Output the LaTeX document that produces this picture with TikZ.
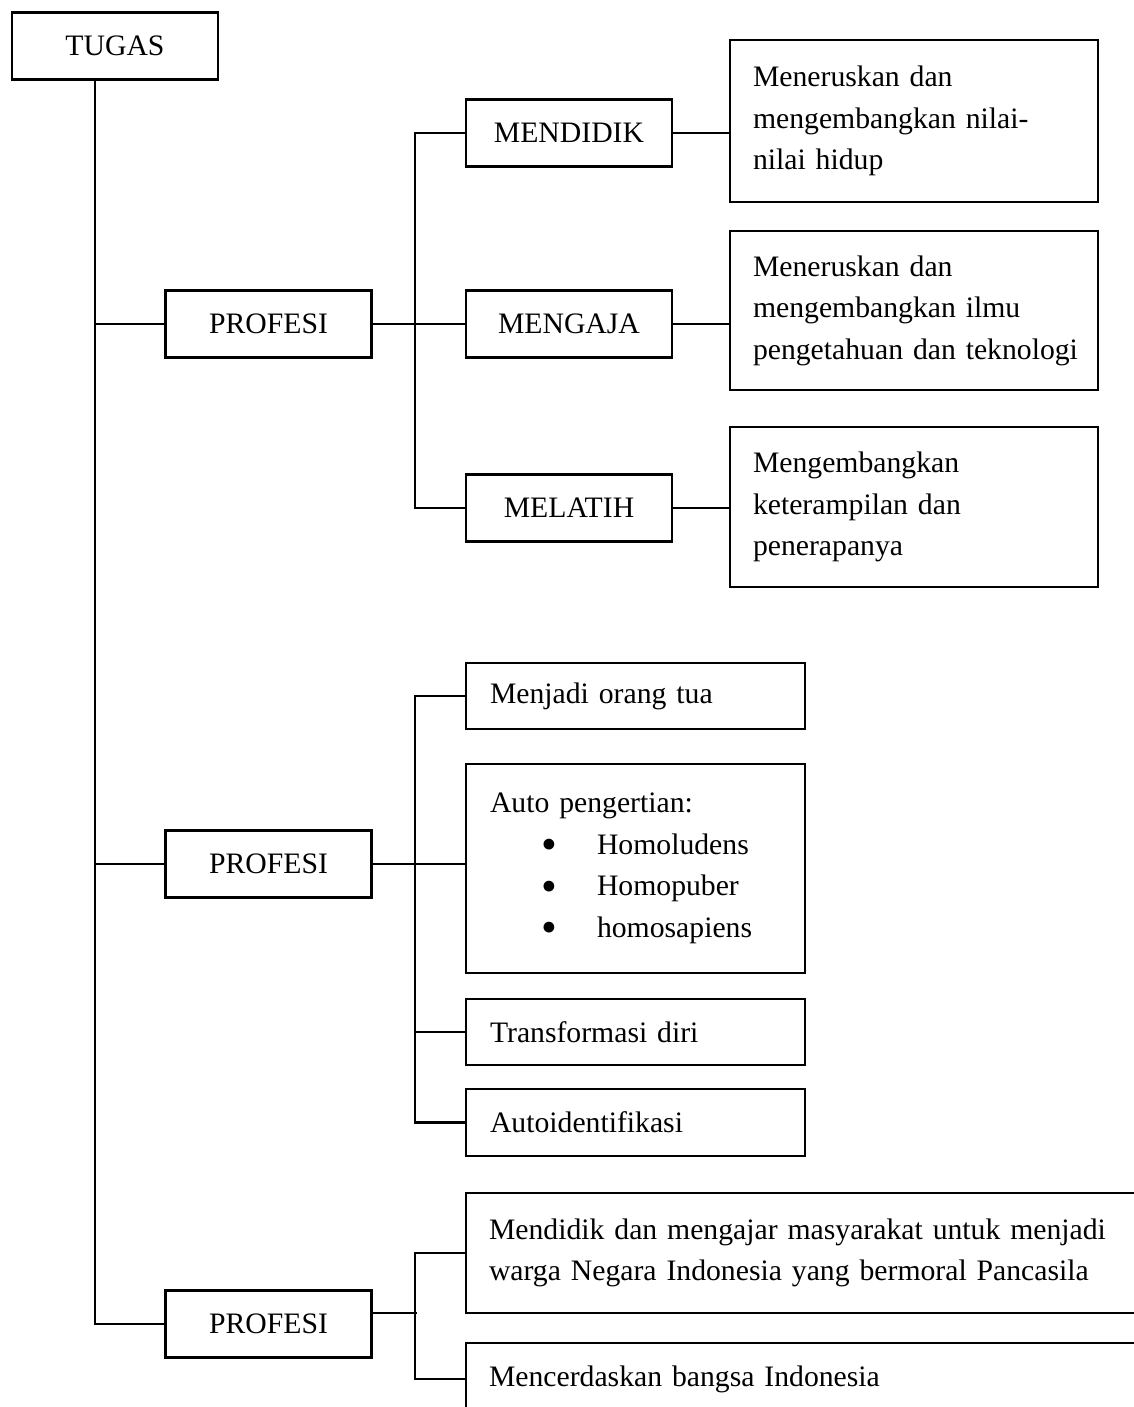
\documentclass[tikz,border=0pt]{standalone}
\usepackage{fontspec}
\setmainfont{Liberation Serif}
\usepackage{tikz}
\newcommand{\huruf}{\fontsize{29.7pt}{41.5pt}\selectfont}
\newcommand{\butir}[1]{\makebox[107pt][l]{\hspace*{51pt}\raisebox{-5.5pt}{\fontsize{45pt}{41.5pt}\selectfont\textbullet}}#1}

\begin{document}
\begin{tikzpicture}[x=1pt, y=-1pt, line width=2.3pt, every node/.style={shape=rectangle, draw, line width=2.3pt, font=\huruf, inner sep=0pt},
			kotak/.style={minimum width=206pt, minimum height=67pt, align=center},
			ket/.style={align=left, inner xsep=23pt, text width=#1}]
			\useasboundingbox (0,0) rectangle (1133,1407);
			\node[kotak] (tugas) at (115,46) {TUGAS};
			\node[kotak] (profesi1) at (268.5,324) {PROFESI};
			\node[kotak] (profesi2) at (268.5,864) {PROFESI};
			\node[kotak] (profesi3) at (268.5,1324) {PROFESI};
			\node[kotak] (mendidik) at (569,133) {MENDIDIK};
			\node[kotak] (mengaja) at (569,324) {MENGAJA};
			\node[kotak] (melatih) at (569,508) {MELATIH};
			\node[ket=322pt, minimum height=162pt] (nilai) at (914,121) {Meneruskan dan\\mengembangkan nilai-\\nilai hidup};
			\node[ket=322pt, minimum height=159pt] (ilmu) at (914,310.5) {Meneruskan dan\\mengembangkan ilmu\\\mbox{pengetahuan dan teknologi}};
			\node[ket=322pt, minimum height=160pt] (terampil) at (914,507) {Mengembangkan\\keterampilan dan\\penerapanya};
			\node[ket=291pt, inner xsep=24pt, minimum height=66pt] (orangtua) at (635.5,696) {Menjadi orang tua};
			\node[ket=291pt, inner xsep=24pt, minimum height=209pt] (auto) at (635.5,868.5) {Auto pengertian:\\\butir{Homoludens}\\\butir{Homopuber}\\\butir{homosapiens}};
			\node[ket=291pt, inner xsep=24pt, minimum height=66pt] (transformasi) at (635.5,1032) {Transformasi diri};
			\node[ket=291pt, inner xsep=24pt, minimum height=67pt] (autoid) at (635.5,1122.5) {Autoidentifikasi};
			\node[ket=628pt, minimum height=120pt] (warga) at (803,1253) {Mendidik dan mengajar masyarakat untuk menjadi\\warga Negara Indonesia yang bermoral Pancasila};
			\node[ket=628pt, minimum height=72pt] (cerdas) at (803,1379) {Mencerdaskan bangsa Indonesia};
			\coordinate (akar) at (95,79);
			\draw (akar) |- (profesi3.west);
			\draw (akar |- profesi1.west) -- (profesi1.west);
			\draw (akar |- profesi2.west) -- (profesi2.west);
			\draw (mendidik.west) -- ++(-50,0) |- (melatih.west);
			\draw (profesi1.east) -- (mengaja.west);
			\draw (mendidik.east) -- (mendidik.east -| nilai.west);
			\draw (mengaja.east) -- (mengaja.east -| ilmu.west);
			\draw (melatih.east) -- (melatih.east -| terampil.west);
			\draw (orangtua.west) -- ++(-50,0) |- (autoid.west);
			\draw (profesi2.east) -- (profesi2.east -| auto.west);
			\draw (transformasi.west) -- ++(-50,0);
			\draw (warga.west) -- ++(-50,0) |- (cerdas.west);
			\draw ([yshift=11pt]profesi3.east) -- ++(44,0);
			\end{tikzpicture}
\end{document}
